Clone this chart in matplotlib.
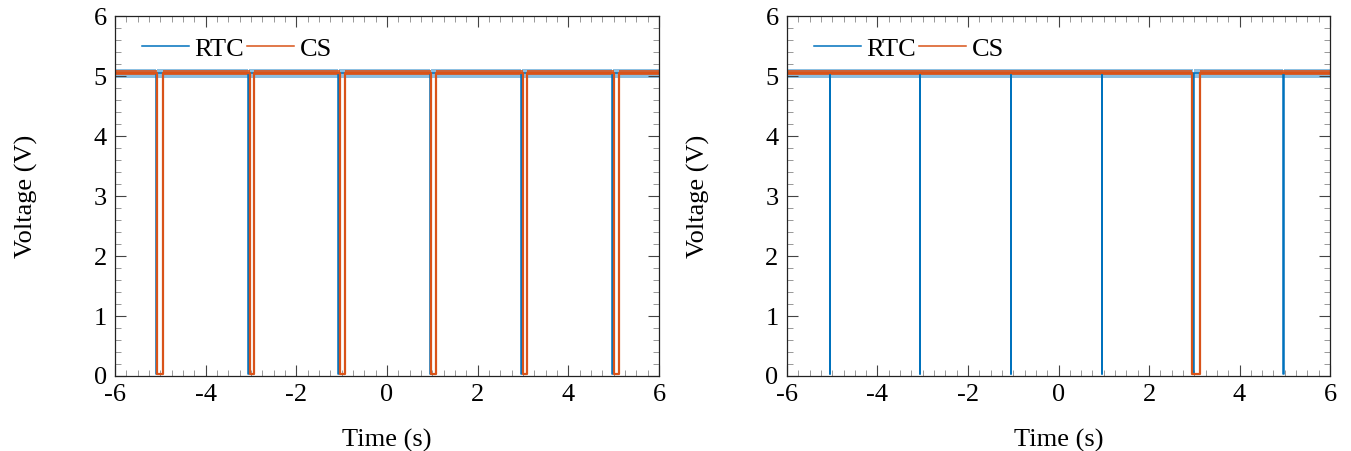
import matplotlib.pyplot as plt
import numpy as np

plt.rcParams['font.family'] = ['Liberation Serif', 'DejaVu Serif']
plt.rcParams['axes.unicode_minus'] = False

# signal levels (V)
v_high = 5.05
v_low = 0.03

# time windows where each line is pulled low (s)
rtc_left_low = [(-5.09, -5.07), (-3.06, -3.04), (-1.07, -1.05),
                (0.95, 0.97), (2.95, 2.97), (4.97, 4.99)]
cs_left_low = [(-5.07, -4.94), (-3.03, -2.93), (-1.04, -0.92),
               (0.97, 1.08), (2.99, 3.09), (5.01, 5.11)]

rtc_right_low = [(-5.06, -5.04), (-3.07, -3.05), (-1.06, -1.04),
                 (0.95, 0.97), (2.97, 2.99), (4.96, 4.98)]
cs_right_low = [(2.96, 3.12)]

t_start, t_end = -6, 6
x_ticks = [-6, -4, -2, 0, 2, 4, 6]
y_ticks = [0, 1, 2, 3, 4, 5, 6]

blue = '#0072BD'
orange = '#D95319'
fs = 19


def step_trace(lows):
    # turn a list of low windows into a square-wave trace
    t = [t_start]
    v = [v_high]
    for a, b in lows:
        t += [a, a, b, b]
        v += [v_high, v_low, v_low, v_high]
    t.append(t_end)
    v.append(v_high)
    return np.array(t), np.array(v)


def draw(ax, rtc_lows, cs_lows):
    for lows, color, name, lw in [(rtc_lows, blue, 'RTC', 1.1),
                                  (cs_lows, orange, 'CS', 1.6)]:
        t, v = step_trace(lows)
        ax.plot(t, v, color=color, lw=lw, label=name)
        # noise band riding on the high level
        hi = v > 2.5
        if name == 'RTC':
            ax.fill_between(t, v - 0.08, v + 0.07, where=hi, color=color,
                            alpha=0.45, lw=0)
        else:
            ax.fill_between(t, v - 0.04, v + 0.05, where=hi, color=color,
                            alpha=0.85, lw=0)

    ax.set_xlim(t_start, t_end)
    ax.set_ylim(0, 6)
    ax.set_xticks(x_ticks)
    ax.set_yticks(y_ticks)
    ax.set_xticks(np.arange(t_start, t_end + 0.01, 0.25), minor=True)
    ax.set_yticks(np.arange(0, 6.01, 0.2), minor=True)
    ax.tick_params(which='both', direction='in', top=True, right=True,
                   labelsize=fs, color='#444444', pad=6)
    ax.tick_params(which='major', length=8, width=0.8)
    ax.tick_params(which='minor', length=4.5, width=0.6, color='#888888')
    for s in ax.spines.values():
        s.set_linewidth(0.9)
        s.set_color('#222222')
    ax.set_xlabel('Time (s)', fontsize=fs, labelpad=16)
    ax.set_ylabel('Voltage (V)', fontsize=fs, labelpad=40)
    leg = ax.legend(loc='upper left', ncol=2, frameon=False, fontsize=fs,
                    handlelength=1.8, handletextpad=0.2, columnspacing=0.1,
                    borderaxespad=0.2, bbox_to_anchor=(0.02, 0.985))
    for line in leg.get_lines():
        line.set_linewidth(1.1)


fig = plt.figure(figsize=(13.51, 4.51), dpi=100)
ax1 = fig.add_axes([0.0851, 0.1663, 0.4027, 0.7982])
ax2 = fig.add_axes([0.5825, 0.1663, 0.4020, 0.7982])

draw(ax1, rtc_left_low, cs_left_low)
draw(ax2, rtc_right_low, cs_right_low)

fig.savefig('out.png', dpi=100)
